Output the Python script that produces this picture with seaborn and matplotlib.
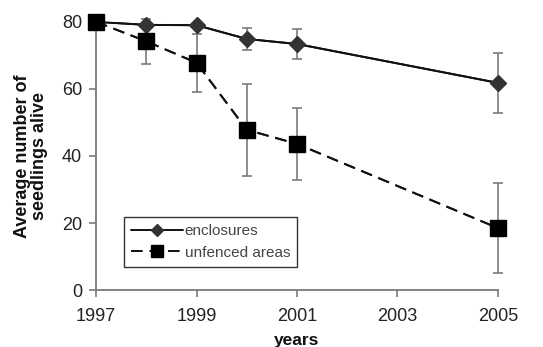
import matplotlib
matplotlib.use("Agg")
import matplotlib.pyplot as plt
import seaborn as sns
import pandas as pd
import numpy as np

years = [1997, 1998, 1999, 2000, 2001, 2005]
enclosures = [80.0, 79.1, 79.0, 74.9, 73.4, 61.8]
enclosures_err = [0.0, 0.0, 0.0, 3.3, 4.5, 9.0]
unfenced = [80.0, 74.2, 67.8, 47.8, 43.6, 18.5]
unfenced_err = [0.0, 6.7, 8.6, 13.8, 10.8, 13.5]
xticks = [1997, 1999, 2001, 2003, 2005]
yticks = [0, 20, 40, 60, 80]

sns.set_theme(style="white")
plt.rcParams['font.family'] = ['Liberation Sans', 'DejaVu Sans']

df = pd.DataFrame({
    "year": years * 2,
    "value": enclosures + unfenced,
    "series": ["enclosures"] * len(years) + ["unfenced areas"] * len(years),
})

fig = plt.figure(figsize=(5.43, 3.47), dpi=100)
ax = fig.add_axes([0.177, 0.164, 0.740, 0.773])

grey = "#7a7a7a"
for ys, es in [(enclosures, enclosures_err), (unfenced, unfenced_err)]:
    idx = [i for i, e in enumerate(es) if e > 0]
    ax.errorbar([years[i] for i in idx], [ys[i] for i in idx],
                yerr=[es[i] for i in idx], fmt="none", ecolor=grey,
                elinewidth=1.2, capsize=3.5, capthick=1.2, zorder=2, clip_on=False)

sns.lineplot(data=df, x="year", y="value", hue="series", style="series",
             palette={"enclosures": "#111111", "unfenced areas": "#111111"},
             dashes={"enclosures": "", "unfenced areas": (6, 3.5)},
             markers=False, linewidth=1.4, ax=ax, legend=False, zorder=3)

ax.plot(years, enclosures, color="#111111", lw=1.4, marker="D", markersize=8,
        markerfacecolor="#333333", markeredgecolor="#333333", zorder=4,
        clip_on=False, label="enclosures", linestyle="-")
ax.plot(years, unfenced, color="#111111", lw=1.4, marker="s", markersize=11,
        markerfacecolor="#000000", markeredgecolor="#000000", zorder=5,
        clip_on=False, label="unfenced areas", linestyle=(0, (6, 3.5)))

ax.set_xlim(1997, 2005)
ax.set_ylim(0, 80)
ax.set_xticks(xticks)
ax.set_yticks(yticks)
ax.tick_params(axis="both", which="both", direction="out", length=5, width=1.2,
               color=grey, labelsize=13, labelcolor="#222222", bottom=True, left=True)
ax.tick_params(axis="x", pad=8)
ax.tick_params(axis="y", pad=5)
for s in ["top", "right"]:
    ax.spines[s].set_visible(False)
for s in ["left", "bottom"]:
    ax.spines[s].set_color(grey)
    ax.spines[s].set_linewidth(1.3)

ax.set_xlabel("years", fontsize=12.5, fontweight="bold", color="#111111", labelpad=6)
ax.set_ylabel("Average number of\nseedlings alive", fontsize=13, fontweight="bold",
              color="#111111", labelpad=10, linespacing=1.0)

handles = ax.lines[-2:]
leg = ax.legend(handles=handles, labels=["enclosures", "unfenced areas"],
                loc="upper left", bbox_to_anchor=(0.07, 0.272), borderaxespad=0,
                fontsize=11, frameon=True, fancybox=False, edgecolor="#333333",
                framealpha=1, handlelength=3.4, handletextpad=0.1, borderpad=0.45,
                labelspacing=0.5, markerscale=0.8)
leg.get_frame().set_linewidth(1.0)
for t in leg.get_texts():
    t.set_color("#444444")

fig.savefig("out.png", dpi=100)
